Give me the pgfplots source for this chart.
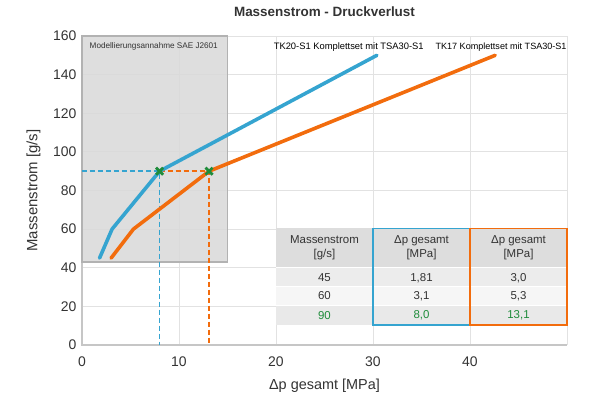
\documentclass[border=0pt]{standalone}
\usepackage{pgfplots}
\pgfplotsset{compat=1.18}
\usepackage{fontspec}
\setmainfont{Liberation Sans}
\definecolor{cblue}{HTML}{35A4D0}
\definecolor{corange}{HTML}{F26C0D}
\definecolor{cgreen}{HTML}{1E8C3A}
\definecolor{cgrid}{HTML}{E2E2E2}
\definecolor{cbox}{HTML}{D9D9D9}
\definecolor{ctext}{HTML}{333333}
\definecolor{thead}{HTML}{DDDDDD}
\definecolor{trowa}{HTML}{ECECEC}
\definecolor{trowb}{HTML}{F6F6F6}
\definecolor{trowc}{HTML}{E9E9E9}
\begin{document}
\begin{tikzpicture}[x=1bp,y=1bp]
\begin{axis}[
  at={(0,0)}, anchor=south west,
  scale only axis, width=485bp, height=309bp,
  xmin=0, xmax=50, ymin=0, ymax=160,
  xtick={0,10,20,30,40,50}, xticklabels={0,10,20,30,40,},
  ytick={0,20,...,160},
  grid=major, major grid style={cgrid, line width=0.9bp},
  axis line style={draw=none},
  tick style={draw=none},
  clip=false,
  /pgf/number format/assume math mode=true,
  tick label style={font=\fontsize{14}{14}\selectfont, text=ctext},
  xticklabel style={yshift=-8bp},
  yticklabel style={xshift=-2bp},
  xlabel={Δp gesamt [MPa]},
  ylabel={Massenstrom [g/s]},
  xlabel style={at={(axis description cs:0.5,-0.133)}, anchor=center, font=\fontsize{14.5}{14.5}\selectfont, text=ctext},
  ylabel style={at={(axis description cs:-0.1,0.5)}, anchor=center, font=\fontsize{15}{15}\selectfont, text=ctext},
  title={Massenstrom - Druckverlust},
  title style={at={(axis description cs:0.5,1.078)}, anchor=center, yshift=-6pt, font=\bfseries\fontsize{13.5}{13.5}\selectfont, text=ctext},
]
% axis lines
\draw[gray!45, line width=1.2bp] (axis cs:0,160) -- (axis cs:0,0) -- (axis cs:50,0);
% modelling box
\fill[cbox, fill opacity=0.88, draw=gray!60, draw opacity=1, line width=1.3bp] (axis cs:0,43) rectangle (axis cs:15,160);
\node[font=\fontsize{8.2}{8.2}\selectfont, text=ctext] at (axis cs:7.4,154.4) {Modellierungsannahme SAE J2601};
\node[font=\fontsize{9.4}{9.4}\selectfont, text=black] at (axis cs:27.5,154.4) {TK20-S1 Komplettset mit TSA30-S1};
\node[font=\fontsize{9.1}{9.1}\selectfont, text=black] at (axis cs:43.2,154.4) {TK17 Komplettset mit TSA30-S1};
% dashed guides
\addplot[color=cblue, line width=1.8bp, dash pattern=on 5bp off 3bp] coordinates {(0,90) (8,90) (8,0)};
\addplot[color=corange, line width=1.8bp, dash pattern=on 5bp off 3bp] coordinates {(8,90) (13.1,90) (13.1,0)};
% curves
\addplot[color=cblue, line width=3.6bp, line cap=round, line join=round] coordinates {(1.81,45) (3.1,60) (8.0,90) (30.4,150)};
\addplot[color=corange, line width=3.6bp, line cap=round, line join=round] coordinates {(3.0,45) (5.3,60) (13.1,90) (42.6,150)};
\addplot[only marks, mark=x, mark size=5bp, color=cgreen, mark options={line width=2.8bp}] coordinates {(8,90) (13.1,90)};
% table
\fill[thead] (axis cs:20,60.5) rectangle (axis cs:50,40.4);
\fill[trowa] (axis cs:20,40.4) rectangle (axis cs:50,30.5);
\fill[trowb] (axis cs:20,30.5) rectangle (axis cs:50,20.7);
\fill[trowc] (axis cs:20,20.7) rectangle (axis cs:50,10.4);
\draw[white, line width=0.8bp] (axis cs:20,40.4) -- (axis cs:50,40.4) (axis cs:20,30.5) -- (axis cs:50,30.5) (axis cs:20,20.7) -- (axis cs:50,20.7);
\draw[cblue, line width=1.3bp] (axis cs:30,60.5) rectangle (axis cs:40,10.4);
\draw[corange, line width=1.3bp] (axis cs:40,60.5) rectangle (axis cs:50,10.4);
\begin{scope}[every node/.style={font=\fontsize{11.5}{13.5}\selectfont, text=ctext, align=center, anchor=center}]
\node at (axis cs:25,50.3) {Massenstrom\\{[g/s]}};
\node at (axis cs:35,50.3) {Δp gesamt\\{[MPa]}};
\node at (axis cs:45,50.3) {Δp gesamt\\{[MPa]}};
\node at (axis cs:25,34.8) {45};
\node at (axis cs:35,34.8) {1,81};
\node at (axis cs:45,34.8) {3,0};
\node at (axis cs:25,25.4) {60};
\node at (axis cs:35,25.4) {3,1};
\node at (axis cs:45,25.4) {5,3};
\node[text=cgreen] at (axis cs:25,15.2) {90};
\node[text=cgreen] at (axis cs:35,15.2) {8,0};
\node[text=cgreen] at (axis cs:45,15.2) {13,1};
\end{scope}
\end{axis}
\pgfresetboundingbox
\path[use as bounding box] (-82bp,-52bp) rectangle (510bp,345bp);
\end{tikzpicture}
\end{document}
